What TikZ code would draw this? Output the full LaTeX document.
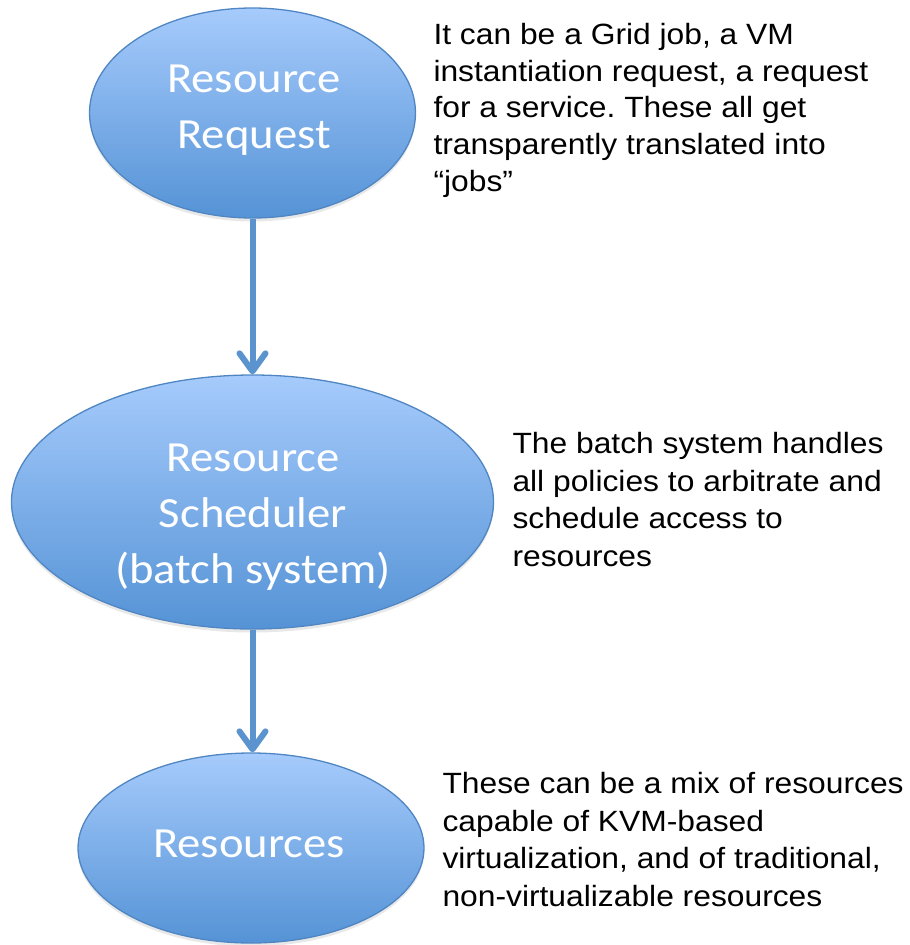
\documentclass[tikz,border=0pt]{standalone}
\usepackage{fontspec}
\setmainfont{Liberation Sans}
\newfontfamily\ovalfont[FakeStretch=1.085]{Carlito}
\newfontfamily\notefont[FakeStretch=1.085]{Liberation Sans}
\usetikzlibrary{shapes.geometric,arrows.meta,shadows}

\definecolor{ovaltop}{HTML}{A6CBFC}
\definecolor{ovalbot}{HTML}{5593D6}
\definecolor{ovalline}{HTML}{4F86C2}
\definecolor{flow}{HTML}{5B93CE}

\tikzset{
  oval/.style={ellipse, draw=ovalline, line width=1.3pt,
    top color=ovaltop, bottom color=ovalbot, inner sep=0pt,
    drop shadow={shadow xshift=0pt, shadow yshift=-3.5pt, opacity=0.18}},
  % multi-line nodes sit on the baseline of their last line
  ovaltext/.style={text=white, font=\ovalfont\fontsize{43}{56}\selectfont,
    align=center, anchor=base, inner sep=0pt, outer sep=0pt},
  note/.style={font=\notefont\fontsize{29.3}{36.8}\selectfont,
    align=left, anchor=base west, inner sep=0pt, outer sep=0pt},
  flowarrow/.style={draw=flow, line width=6pt,
    -{Straight Barb[length=18pt, width=26pt, line cap=round, line join=round]}}
}

\begin{document}
\frenchspacing
\begin{tikzpicture}[x=1pt, y=-1pt]
  \useasboundingbox (0,0) rectangle (910,945);

  % the three stages
  \node[oval, minimum width=326pt, minimum height=210pt] (req) at (252.5,113) {};
  \node[oval, minimum width=482pt, minimum height=254pt] (sched) at (252.5,502) {};
  \node[oval, minimum width=346pt, minimum height=190pt] (res) at (251,848) {};

  % stage labels
  \node[ovaltext] (reqtxt) at (254,148) {Resource\\Request};
  \node[ovaltext] (schedtxt) at (253,583) {Resource\\Scheduler\\(batch system)};
  \node[ovaltext] (restxt) at (249,857.5) {Resources};

  % flow between stages
  \draw[flowarrow] (req.south) -- (sched.north);
  \draw[flowarrow] (sched.south) -- (sched.south |- res.north);

  % explanations
  \node[note] (note1) at (433.5,191.5) {It can be a Grid job, a VM\\instantiation request, a request\\for a service. These all get\\transparently translated into\\“jobs”};
  \node[note, font=\notefont\fontsize{29.3}{37.8}\selectfont] (note2) at (512.5,566.7) {The batch system handles\\all policies to arbitrate and\\schedule access to\\resources};
  \node[note, font=\notefont\fontsize{29.3}{37.8}\selectfont] (note3) at (442.5,906.7) {These can be a mix of resources\\capable of KVM-based\\virtualization, and of traditional,\\non-virtualizable resources};
\end{tikzpicture}
\end{document}
